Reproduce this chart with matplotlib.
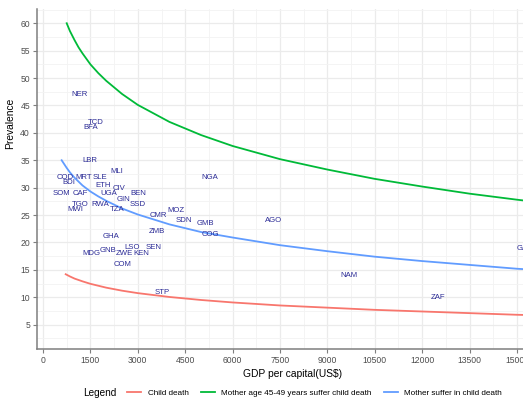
import matplotlib
matplotlib.use('Agg')
import matplotlib.pyplot as plt
from matplotlib.ticker import MultipleLocator
from matplotlib.offsetbox import HPacker

plt.rcParams['font.family'] = ['Liberation Sans', 'DejaVu Sans']

# Fitted curves (GDP per capita vs prevalence)
red_gdp = [718, 850, 1000, 1250, 1500, 2000, 2500, 3000, 4000, 5000, 6000, 7500, 9000, 10500, 12000, 13500, 15000, 16500]
red_val = [14.2, 13.8, 13.4, 12.9, 12.45, 11.75, 11.2, 10.75, 10.05, 9.5, 9.05, 8.5, 8.1, 7.7, 7.4, 7.1, 6.8, 6.6]

green_gdp = [750, 850, 1000, 1125, 1250, 1500, 1750, 2000, 2500, 3000, 4000, 5000, 6000, 7500, 9000, 10500, 12000, 13500, 15000, 16500]
green_val = [60.0, 58.6, 56.9, 55.6, 54.5, 52.5, 50.9, 49.5, 47.1, 45.1, 42.0, 39.6, 37.6, 35.2, 33.3, 31.6, 30.2, 28.9, 27.8, 26.8]

blue_gdp = [590, 670, 750, 850, 1000, 1125, 1250, 1500, 1750, 2000, 2500, 3000, 4000, 5000, 6000, 7500, 9000, 10500, 12000, 13500, 15000, 16500]
blue_val = [35.0, 34.3, 33.6, 32.8, 31.8, 31.1, 30.4, 29.3, 28.4, 27.6, 26.2, 25.1, 23.3, 21.9, 20.9, 19.5, 18.4, 17.4, 16.6, 15.9, 15.2, 14.7]

# Country labels
countries = ['NER', 'TCD', 'BFA', 'LBR', 'MLI', 'COD', 'BDI', 'MRT', 'SLE', 'ETH',
             'SOM', 'CAF', 'UGA', 'CIV', 'BEN', 'GIN', 'SSD', 'TGO', 'MWI', 'RWA',
             'TZA', 'CMR', 'ZMB', 'GHA', 'LSO', 'SEN', 'MDG', 'GNB', 'ZWE', 'KEN',
             'COM', 'NGA', 'MOZ', 'SDN', 'GMB', 'COG', 'AGO', 'STP', 'NAM', 'ZAF', 'GAB']
gdp = [1171, 1677, 1519, 1487, 2342, 696, 823, 1297, 1804, 1889,
       570, 1171, 2089, 2415, 3028, 2542, 3006, 1192, 1034, 1825,
       2342, 3660, 3597, 2141, 2806, 3492, 1519, 2067, 2573, 3122,
       2521, 5285, 4199, 4472, 5137, 5306, 7289, 3787, 9674, 12490, 15250]
prev = [47.0, 41.9, 40.95, 34.9, 33.0, 31.9, 30.9, 31.9, 31.9, 30.4,
        28.85, 28.85, 28.85, 29.9, 28.85, 27.9, 27.0, 27.0, 26.0, 27.0,
        26.0, 25.0, 22.0, 21.0, 19.0, 19.0, 18.0, 18.5, 18.0, 18.0,
        15.95, 31.9, 25.9, 24.0, 23.5, 21.4, 24.0, 10.85, 13.9, 9.9, 18.9]

fig = plt.figure(figsize=(5.23, 4.05), dpi=100)
ax = fig.add_axes([37 / 523, 1 - 349.3 / 405, 1 - 37 / 523, (349.3 - 9) / 405])

ax.plot(red_gdp, red_val, color='#F8766D', lw=1.3, label='Child death')
ax.plot(green_gdp, green_val, color='#00BA38', lw=1.3, label='Mother age 45-49 years suffer child death')
ax.plot(blue_gdp, blue_val, color='#619CFF', lw=1.3, label='Mother suffer in child death')

for c, x, y in zip(countries, gdp, prev):
    ax.text(x, y, c, fontsize=5.6, color='#2B2B96', ha='center', va='center', clip_on=True)

ax.set_xlim(-190, 15190)
ax.set_ylim(0.5, 62.6)
ax.xaxis.set_major_locator(MultipleLocator(1500))
ax.xaxis.set_minor_locator(MultipleLocator(750))
ax.yaxis.set_major_locator(MultipleLocator(5))
ax.yaxis.set_minor_locator(MultipleLocator(2.5))
ax.set_yticks(range(5, 61, 5))
ax.grid(which='major', color='#EBEBEB', lw=0.9)
ax.grid(which='minor', color='#F3F3F3', lw=0.6)
ax.set_axisbelow(True)

for s in ['top', 'right']:
    ax.spines[s].set_visible(False)
for s in ['left', 'bottom']:
    ax.spines[s].set_color('#7F7F7F')
    ax.spines[s].set_linewidth(1.1)

ax.tick_params(which='major', length=3, color='#7F7F7F', labelsize=6.2, labelcolor='#4D4D4D', pad=2)
ax.tick_params(which='minor', length=0)

ax.set_xlabel('GDP per capital(US$)', fontsize=7.4)
ax.set_ylabel('Prevalence', fontsize=7.4)
ax.xaxis.set_label_coords((293 - 37) / 486, (349.3 - 369) / 340.3)
ax.yaxis.set_label_coords((15 - 37) / 486, (349.3 - 123) / 340.3)

leg = fig.legend(loc='center', bbox_to_anchor=(0.559, 0.03), ncol=3, frameon=False,
                 title='Legend', fontsize=5.9, title_fontsize=7.2, handlelength=1.7,
                 columnspacing=1.5, handletextpad=0.8)
# put title on the same row as the entries
box = leg._legend_box
box._children = [HPacker(children=[box._children[0], box._children[1]], align='center', pad=0, sep=8)]

fig.savefig('out.png', dpi=100)
